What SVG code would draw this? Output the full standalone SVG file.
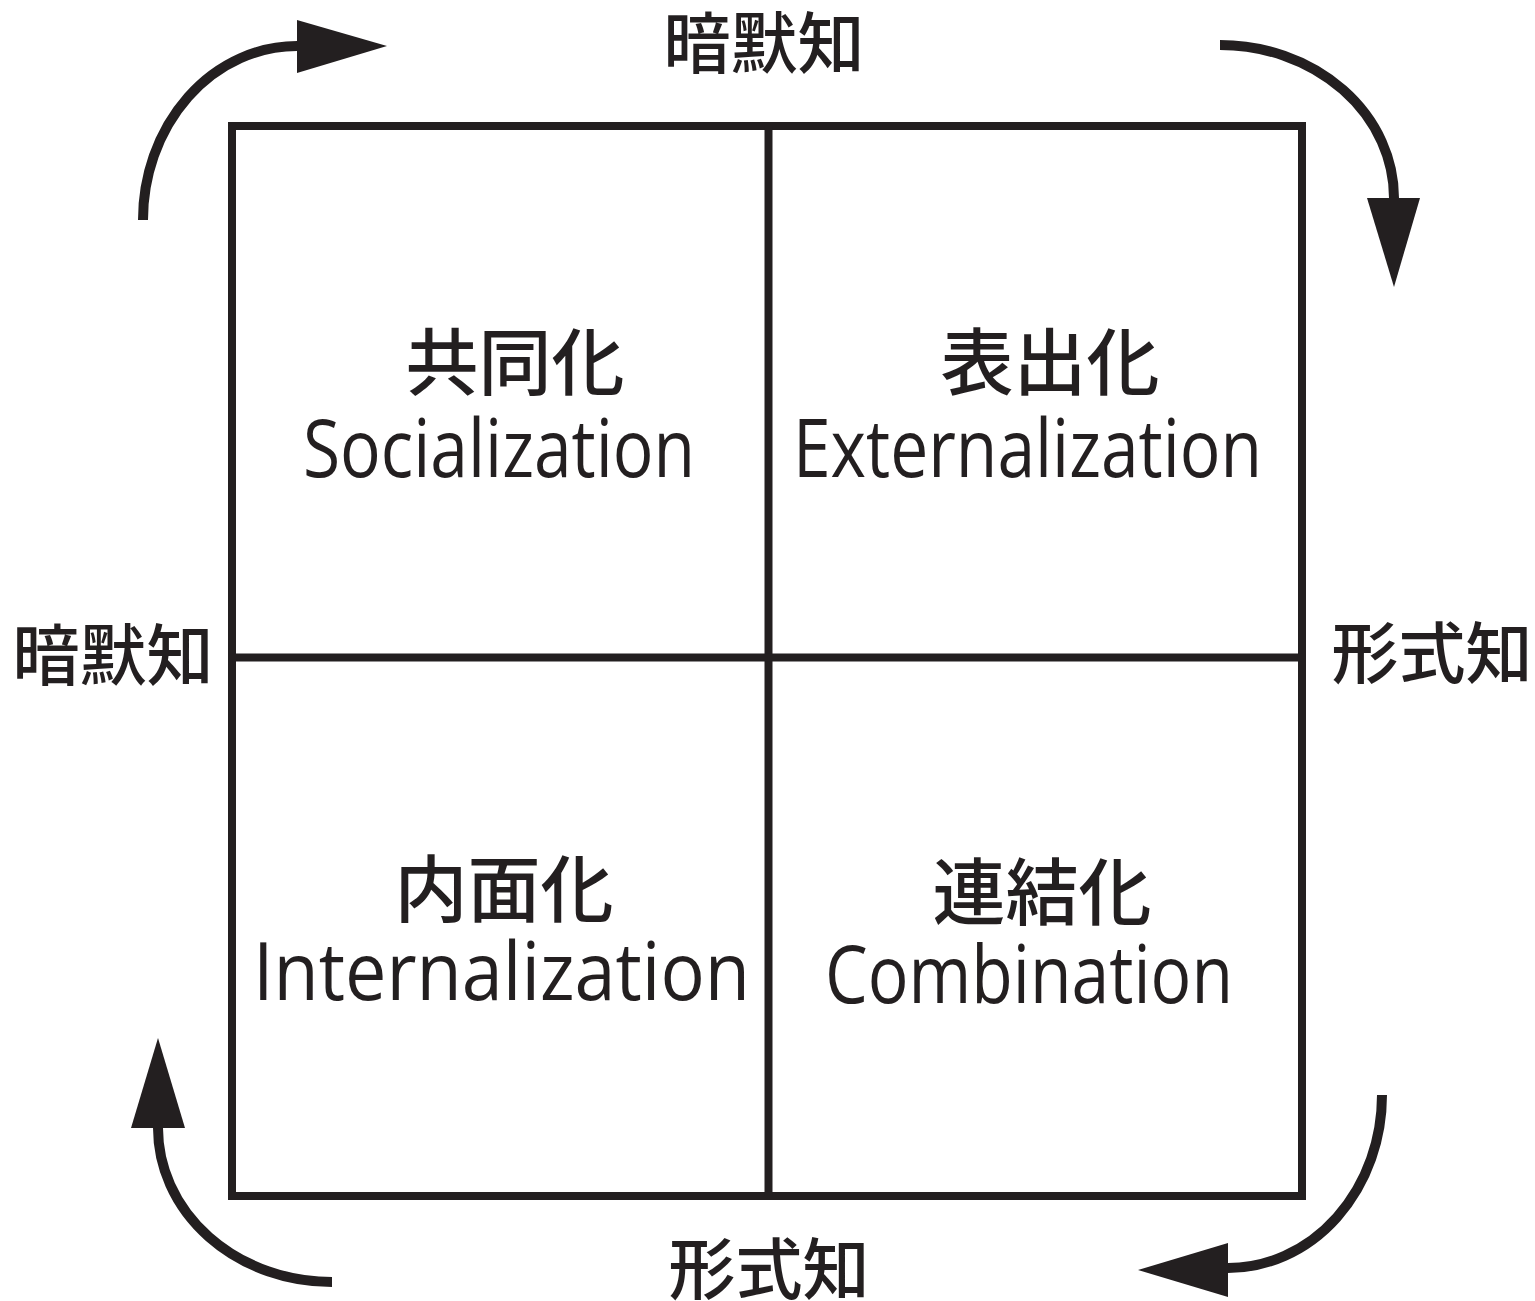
<svg xmlns="http://www.w3.org/2000/svg" width="1535" height="1301" viewBox="0 0 1535 1301">
<style>
.frame{fill:none;stroke:#231f20;stroke-width:8}
.arc{fill:none;stroke:#231f20;stroke-width:10}
.head{fill:#231f20}
.jp{font-family:"Noto Sans CJK JP","Noto Sans",sans-serif;fill:#231f20;text-anchor:middle;dominant-baseline:central;font-weight:500}
.en{font-family:"Open Sans","Noto Sans",sans-serif;fill:#231f20;font-size:80px;font-weight:500}
</style>
<rect width="1535" height="1301" fill="#ffffff"/>
<g id="grid">
<rect class="frame" x="232" y="126" width="1070" height="1070"/>
<line class="frame" x1="768.5" y1="126" x2="768.5" y2="1196"/>
<line class="frame" x1="232" y1="657.5" x2="1302" y2="657.5"/>
</g>
<g id="connectors">
<path class="arc" d="M143,220 A154 174 0 0 1 297 46"/>
<polygon class="head" points="297,20 387,46 297,73"/>
<path class="arc" d="M1220,45 A174 153 0 0 1 1394 198"/>
<polygon class="head" points="1367,198 1420,198 1394,287"/>
<path class="arc" d="M1382,1095 A154 173 0 0 1 1228 1268"/>
<polygon class="head" points="1228,1243 1228,1297 1138,1270"/>
<path class="arc" d="M158,1128 A174 154 0 0 0 332 1282"/>
<polygon class="head" points="131,1128 185,1128 158,1038"/>
</g>
<g id="label-top"><text class="jp" x="764" y="38" font-size="67">暗默知</text></g>
<g id="label-left"><text class="jp" x="113" y="650" font-size="67">暗默知</text></g>
<g id="label-right"><text class="jp" x="1432" y="648" font-size="67">形式知</text></g>
<g id="label-bottom"><text class="jp" x="769" y="1264" font-size="67">形式知</text></g>
<g id="socialization">
<text class="jp" x="515" y="357" font-size="73">共同化</text>
<text class="en" x="303" y="477" textLength="392" lengthAdjust="spacingAndGlyphs">Socialization</text>
</g>
<g id="externalization">
<text class="jp" x="1050" y="357" font-size="73">表出化</text>
<text class="en" x="793" y="477" textLength="469" lengthAdjust="spacingAndGlyphs">Externalization</text>
</g>
<g id="internalization">
<text class="jp" x="504" y="884" font-size="73">内面化</text>
<text class="en" x="253" y="1000" textLength="497" lengthAdjust="spacingAndGlyphs">Internalization</text>
</g>
<g id="combination">
<text class="jp" x="1042" y="887" font-size="73">連結化</text>
<text class="en" x="825" y="1003" textLength="408" lengthAdjust="spacingAndGlyphs">Combination</text>
</g>
</svg>
